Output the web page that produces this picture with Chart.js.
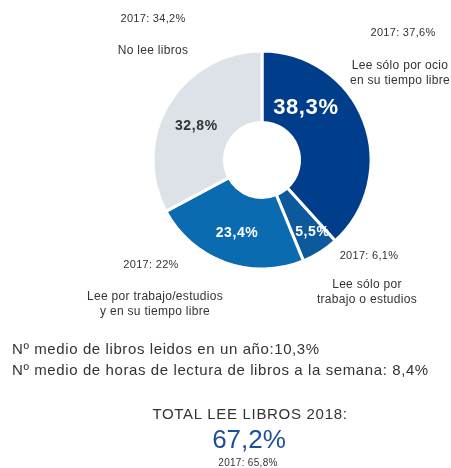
<!DOCTYPE html>
<html>
<head>
<meta charset="utf-8">
<script src="https://cdn.jsdelivr.net/npm/chart.js@4"></script>
<style>
  body { margin: 0; background: #fff; }
  #wrap { position: relative; width: 451px; height: 468px; font-family: "Liberation Sans", Arial, sans-serif; color: #333; }
  #grafico { position: absolute; left: 0; top: 0; }
  .t { position: absolute; transform: translate(-50%, -50%); white-space: nowrap; text-align: center; line-height: 1.25; letter-spacing: 0.3px; }
  .l { position: absolute; white-space: nowrap; line-height: 1; font-size: 15px; letter-spacing: 0.6px; }
</style>
</head>
<body>
<div id="wrap">
  <canvas id="grafico" width="451" height="468"></canvas>
  <div class="t" style="left:153px; top:19px; font-size:11px;">2017: 34,2%</div>
  <div class="t" style="left:153px; top:50px; font-size:12px;">No lee libros</div>
  <div class="t" style="left:403px; top:33px; font-size:11px;">2017: 37,6%</div>
  <div class="t" style="left:400px; top:73px; font-size:12px;">Lee sólo por ocio<br>en su tiempo libre</div>
  <div class="t" style="left:369px; top:256px; font-size:11px;">2017: 6,1%</div>
  <div class="t" style="left:367px; top:292px; font-size:12px;">Lee sólo por<br>trabajo o estudios</div>
  <div class="t" style="left:151px; top:265px; font-size:11px;">2017: 22%</div>
  <div class="t" style="left:155px; top:304px; font-size:12px;">Lee por trabajo/estudios<br>y en su tiempo libre</div>
  <div class="l" style="left:12px; top:341px;">Nº medio de libros leidos en un año:10,3%</div>
  <div class="l" style="left:12px; top:362px;">Nº medio de horas de lectura de libros a la semana: 8,4%</div>
  <div class="t" style="left:250px; top:414px; font-size:15px; letter-spacing:0.7px;">TOTAL LEE LIBROS 2018:</div>
  <div class="t" style="left:249px; top:439px; font-size:26px; letter-spacing:0; color:#1d4f98;">67,2%</div>
  <div class="t" style="left:248px; top:463px; font-size:10px;">2017: 65,8%</div>
</div>
<script>
const categorias = [
  "Lee sólo por ocio en su tiempo libre",
  "Lee sólo por trabajo o estudios",
  "Lee por trabajo/estudios y en su tiempo libre",
  "No lee libros"
];
const valores2018 = [38.3, 5.5, 23.4, 32.8];
const valores2017 = [37.6, 6.1, 22, 34.2];
const etiquetas = ["38,3%", "5,5%", "23,4%", "32,8%"];

const colores = ["#003e8c", "#0c5a9c", "#0a6bb0", "#dde1e8"];

// donde va cada etiqueta dentro de su porción (fracción del ángulo, fracción del grosor)
const posEtiqueta = [[0.29, 0.43], [0.37, 0.71], [0.49, 0.55], [0.47, 0.51]];
const estiloEtiqueta = [
  { font: "bold 22px 'Liberation Sans', Arial", color: "#fff" },
  { font: "bold 14px 'Liberation Sans', Arial", color: "#fff" },
  { font: "bold 14px 'Liberation Sans', Arial", color: "#fff" },
  { font: "bold 14px 'Liberation Sans', Arial", color: "#333" }
];

const etiquetasPlugin = {
  id: "etiquetas",
  afterDatasetsDraw(chart) {
    const ctx = chart.ctx;
    const arcs = chart.getDatasetMeta(0).data;
    ctx.save();
    ctx.textAlign = "center";
    ctx.textBaseline = "middle";
    ctx.letterSpacing = "0.6px";
    arcs.forEach((arc, i) => {
      const p = arc.getProps(["x", "y", "startAngle", "endAngle", "innerRadius", "outerRadius"], true);
      const ang = p.startAngle + posEtiqueta[i][0] * (p.endAngle - p.startAngle);
      const r = p.innerRadius + posEtiqueta[i][1] * (p.outerRadius - p.innerRadius);
      ctx.font = estiloEtiqueta[i].font;
      ctx.fillStyle = estiloEtiqueta[i].color;
      ctx.fillText(etiquetas[i], p.x + Math.cos(ang) * r, p.y + Math.sin(ang) * r);
    });
    ctx.restore();
  }
};

new Chart(document.getElementById("grafico").getContext("2d"), {
  type: "doughnut",
  data: {
    labels: categorias,
    datasets: [
      {
        data: valores2018,
        backgroundColor: colores,
        borderColor: "#fff",
        borderWidth: 3
      }
    ]
  },
  options: {
    responsive: false,
    animation: false,
    cutout: 37,
    radius: 109,
    layout: { padding: { left: 153, right: 80, top: 51, bottom: 199 } },
    plugins: {
      legend: { display: false },
      tooltip: { enabled: false }
    }
  },
  plugins: [etiquetasPlugin]
});
</script>
</body>
</html>
